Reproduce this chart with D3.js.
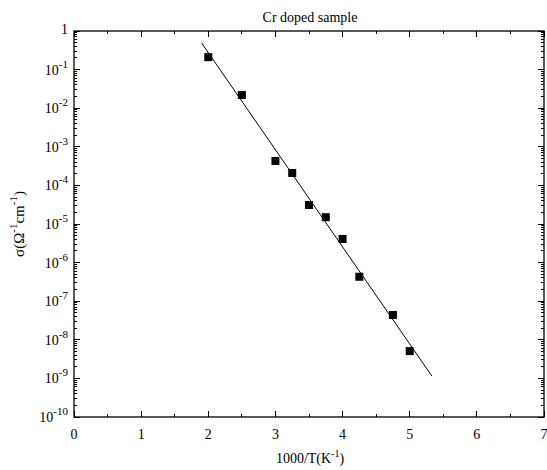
<!DOCTYPE html>
<html>
<head>
<meta charset="utf-8">
<script src="https://cdn.jsdelivr.net/npm/d3@7"></script>
<style>
  body { margin: 0; background: #fff; }
  text { font-family: "Liberation Serif", "DejaVu Serif", serif; fill: #000; }
</style>
</head>
<body>
<div id="chart"></div>
<script>
// measured points
const invT = [2, 2.5, 3, 3.25, 3.5, 3.75, 4, 4.25, 4.75, 5];
const sigma = [0.21, 0.022, 4.3e-4, 2.1e-4, 3.1e-5, 1.5e-5, 4.1e-6, 4.3e-7, 4.4e-8, 5.1e-9];
// fitted line ends
const fitX = [1.9, 5.33];
const fitY = [0.49, 1.15e-9];
const xTicks = [0, 1, 2, 3, 4, 5, 6, 7];
const yExps = [0, -1, -2, -3, -4, -5, -6, -7, -8, -9, -10];

let width = 547, height = 470;
let mLeft = 74, mRight = 544, mTop = 31, mBottom = 417;

let svg = d3.select('#chart').append('svg')
    .attr('width', width)
    .attr('height', height);

let xScale = d3.scaleLinear().domain([0, 7]).range([mLeft, mRight]);
let yScale = d3.scaleLog().domain([1e-10, 1]).range([mBottom, mTop]);

// minor ticks
let xMinor = d3.range(0.5, 7, 1);
let yMinor = [];
yExps.slice(1).forEach(e => {
    for (let k = 2; k <= 9; k++) yMinor.push(k * Math.pow(10, e));
});

let g = svg.append('g').attr('stroke', '#000').attr('stroke-width', 1).attr('shape-rendering', 'crispEdges');

[[mBottom, -1], [mTop, 1]].forEach(([y0, dir]) => {
    g.selectAll(null).data(xTicks).enter().append('line')
        .attr('x1', d => xScale(d)).attr('x2', d => xScale(d))
        .attr('y1', y0).attr('y2', y0 + dir * 6);
    g.selectAll(null).data(xMinor).enter().append('line')
        .attr('x1', d => xScale(d)).attr('x2', d => xScale(d))
        .attr('y1', y0).attr('y2', y0 + dir * 3);
});

let yMajor = yExps.map(e => Math.pow(10, e));
[[mLeft, 1], [mRight, -1]].forEach(([x0, dir]) => {
    g.selectAll(null).data(yMajor).enter().append('line')
        .attr('x1', x0).attr('x2', x0 + dir * 6)
        .attr('y1', d => yScale(d)).attr('y2', d => yScale(d));
    g.selectAll(null).data(yMinor).enter().append('line')
        .attr('x1', x0).attr('x2', x0 + dir * 3)
        .attr('y1', d => yScale(d)).attr('y2', d => yScale(d));
});

svg.append('rect')
    .attr('x', mLeft).attr('y', mTop)
    .attr('width', mRight - mLeft).attr('height', mBottom - mTop)
    .attr('fill', 'none').attr('stroke', '#000').attr('stroke-width', 1.3);

// x labels
svg.selectAll('.xl').data(xTicks).enter().append('text')
    .attr('x', d => xScale(d))
    .attr('y', mBottom + 22)
    .attr('text-anchor', 'middle')
    .attr('font-size', 14)
    .text(d => d);

// y labels
let yl = svg.selectAll('.yl').data(yExps).enter().append('text')
    .attr('x', mLeft - 6)
    .attr('y', d => yScale(Math.pow(10, d)) + 5)
    .attr('text-anchor', 'end')
    .attr('font-size', 14);
yl.each(function(d) {
    let t = d3.select(this);
    if (d === 0) {
        t.attr('y', yScale(1) + 3).text('1');
    } else {
        t.append('tspan').text('10');
        t.append('tspan').attr('dy', -7).attr('font-size', 11).text(d);
    }
});

// title
svg.append('text')
    .attr('x', 310).attr('y', 22)
    .attr('text-anchor', 'middle')
    .attr('font-size', 14)
    .text('Cr doped sample');

// x axis title
let xt = svg.append('text')
    .attr('x', 310).attr('y', 463)
    .attr('text-anchor', 'middle')
    .attr('font-size', 14);
xt.append('tspan').text('1000/T(K');
xt.append('tspan').attr('dy', -6).attr('font-size', 10).text('-1');
xt.append('tspan').attr('dy', 6).text(')');

// y axis title
let yt = svg.append('text')
    .attr('transform', 'translate(24,224) rotate(-90)')
    .attr('text-anchor', 'middle')
    .attr('font-size', 15);
yt.append('tspan').text('σ(Ω');
yt.append('tspan').attr('dy', -7).attr('font-size', 11).text('-1');
yt.append('tspan').attr('dy', 7).text('cm');
yt.append('tspan').attr('dy', -7).attr('font-size', 11).text('-1');
yt.append('tspan').attr('dy', 7).text(')');

// fit line
svg.append('line')
    .attr('x1', xScale(fitX[0])).attr('y1', yScale(fitY[0]))
    .attr('x2', xScale(fitX[1])).attr('y2', yScale(fitY[1]))
    .attr('stroke', '#000').attr('stroke-width', 1);

// points
let s = 8;
svg.selectAll('.pt').data(invT).enter().append('rect')
    .attr('x', d => xScale(d) - s / 2)
    .attr('y', (d, i) => yScale(sigma[i]) - s / 2)
    .attr('width', s).attr('height', s)
    .attr('fill', '#000');
</script>
</body>
</html>
